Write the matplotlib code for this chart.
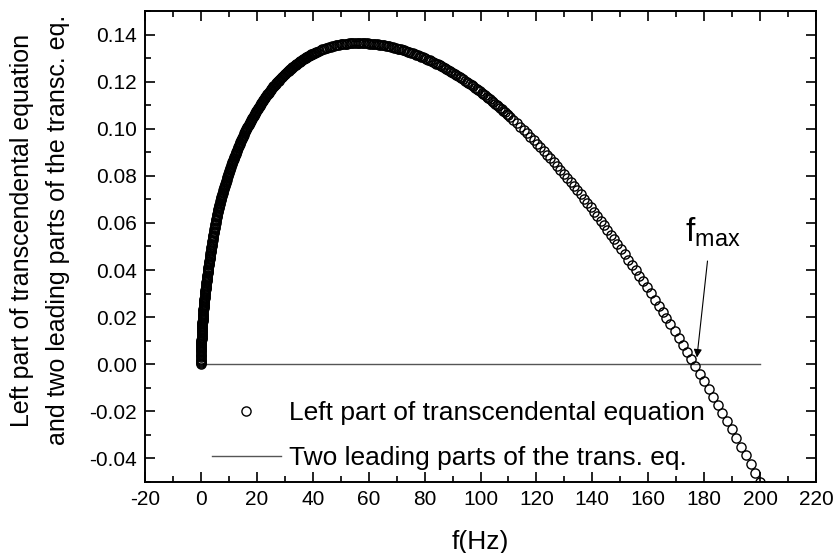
import numpy as np
import matplotlib
matplotlib.use('Agg')
import matplotlib.pyplot as plt
from matplotlib.ticker import MultipleLocator, FormatStrFormatter

# Left part of transcendental equation
f_left = [0, 0.02, 0.05, 0.09, 0.14, 0.2, 0.27, 0.35, 0.44, 0.54, 0.65, 0.77, 0.9, 1.04, 1.19,
          1.35, 1.52, 1.7, 1.89, 2.09, 2.3, 2.52, 2.75, 3.0, 3.26, 3.53, 3.81, 4.1, 4.4, 4.72,
          5.05, 5.4, 5.76, 6.13, 6.52, 6.92, 7.34, 7.77, 8.22, 8.68, 9.16, 9.65, 10.16, 10.7,
          11.25, 11.82, 12.4, 13.0, 13.65, 14.3, 15.0, 15.7, 16.45, 17.2, 18.0, 18.8, 19.65,
          20.5, 21.4, 22.3, 23.25, 24.2, 25.2, 26.2, 27.25, 28.3, 29.4, 30.5, 31.6, 32.7, 33.85,
          35.0, 36.2, 37.4, 38.6, 39.8, 41.0, 42.2, 43.4, 44.6, 45.8, 47.0, 48.2, 49.4, 50.6,
          51.8, 53.0, 54.2, 55.4, 56.6,
          57.8, 59.0, 60.2, 61.4, 62.6, 63.8, 65.0, 66.2, 67.4, 68.6, 69.8, 71.0, 72.2, 73.4,
          74.6, 75.8, 77.0, 78.2, 79.4, 80.6, 81.8, 83.0, 84.2, 85.4, 86.6, 87.8, 89.0, 90.2,
          91.4, 92.6, 93.8, 95.0, 96.2, 97.4, 98.6, 99.8, 101.0, 102.2, 103.4, 104.6, 105.8,
          107.0, 108.2, 109.4, 110.6, 111.8, 113.0, 114.2, 115.4, 116.6, 117.8, 119.0, 120.2,
          121.4, 122.6, 123.8, 125.0, 126.2, 127.4, 128.6, 129.8, 131.0, 132.2, 133.4, 134.6,
          135.8, 137.0, 138.2, 139.4, 140.6, 141.8, 143.0, 144.2, 145.4, 146.6, 147.8, 149.0,
          150.3, 151.6, 152.9, 154.2, 155.5, 156.8, 158.1, 159.5, 160.9, 162.3, 163.7, 165.1,
          166.5, 167.9, 169.4, 170.9, 172.4, 173.9, 175.4, 176.9, 178.5, 180.1, 181.7, 183.3,
          184.9, 186.5, 188.1, 189.8, 191.5, 193.2, 194.9, 196.6, 198.3, 200.0]
y_left = [0, 0.00342, 0.00542, 0.00727, 0.00908, 0.01086, 0.01263, 0.0144, 0.01617, 0.01794,
          0.01972, 0.02151, 0.0233, 0.0251, 0.02692, 0.02875, 0.03059, 0.03244, 0.03431, 0.03619,
          0.0381, 0.04002, 0.04196, 0.04399, 0.04605, 0.04812, 0.05021, 0.05232, 0.05445, 0.05668,
          0.05892, 0.06126, 0.06354, 0.0654, 0.06728, 0.06914, 0.07102, 0.07287, 0.07474, 0.07658,
          0.07843, 0.08025, 0.08208, 0.08394, 0.08577, 0.08759, 0.08938, 0.09116, 0.09302, 0.09481,
          0.09665, 0.09842, 0.10025, 0.102, 0.10379, 0.1055, 0.10724, 0.1089, 0.11058, 0.11218,
          0.11379, 0.11533, 0.11686, 0.11832, 0.11977, 0.12113, 0.12249, 0.12376, 0.12495, 0.12607,
          0.12717, 0.1282, 0.12919, 0.13011, 0.13095, 0.13173, 0.13244, 0.13309, 0.13366, 0.13418,
          0.13464, 0.13504, 0.13539, 0.13568, 0.13591, 0.13609, 0.13622, 0.13631, 0.13634, 0.1364,
          0.13636, 0.1363, 0.1362, 0.13607, 0.1359, 0.13571, 0.13548, 0.13523, 0.13494, 0.13461,
          0.13426, 0.13388, 0.13346, 0.13302, 0.13254, 0.13204, 0.1315, 0.13094, 0.13034, 0.12972,
          0.12906, 0.12838, 0.12767, 0.12692, 0.12615, 0.12536, 0.12453, 0.12368, 0.12279, 0.12188,
          0.12094, 0.11998, 0.11899, 0.11797, 0.11692, 0.11585, 0.11474, 0.11362, 0.11247, 0.11129,
          0.11008, 0.10885, 0.1076, 0.10632, 0.10501, 0.10368, 0.10233, 0.10095, 0.09954, 0.09811,
          0.09666, 0.09519, 0.09369, 0.09216, 0.09062, 0.08905, 0.08745, 0.08584, 0.0842, 0.08254,
          0.08086, 0.07915, 0.07743, 0.07568, 0.07391, 0.07212, 0.0703, 0.06847, 0.06662, 0.06474,
          0.06285, 0.06093, 0.059, 0.05704, 0.05507, 0.05307, 0.05106, 0.04885, 0.04663, 0.04438,
          0.04211, 0.03982, 0.0375, 0.03517, 0.03263, 0.03007, 0.02749, 0.02488, 0.02225, 0.01959,
          0.01692, 0.01402, 0.01111, 0.00817, 0.0052, 0.00221, -0.00081, -0.00405, -0.00732,
          -0.01062, -0.01393, -0.01728, -0.02065, -0.02404, -0.02767, -0.03133, -0.03502, -0.03873,
          -0.04246, -0.04622, -0.05]

# more points of the same series where the circles are packed tightly (f < 110 Hz)
f_left_dense = [0.01, 0.035, 0.07, 0.115, 0.17, 0.235, 0.31, 0.395, 0.49, 0.595, 0.71, 0.835,
                0.97, 1.115, 1.27, 1.435, 1.61, 1.795, 1.99, 2.195, 2.41, 2.635, 2.875, 3.13,
                3.395, 3.67, 3.955, 4.25, 4.56, 4.885, 5.225, 5.58, 5.945, 6.325, 6.72, 7.13,
                7.555, 7.995, 8.45, 8.92, 9.405, 9.905, 10.43, 10.975, 11.535, 12.11, 12.7,
                13.325, 13.975, 14.65, 15.35, 16.075, 16.825, 17.6, 18.4, 19.225, 20.075, 20.95,
                21.85, 22.775, 23.725, 24.7, 25.7, 26.725, 27.775, 28.85, 29.95, 31.05, 32.15,
                33.275, 34.425, 35.6, 36.8, 38.0, 39.2, 40.4, 41.6, 42.8, 44.0, 45.2, 46.4, 47.6,
                48.8, 50.0, 51.2, 52.4, 53.6, 54.8, 56.0,
                57.2, 58.4, 59.6, 60.8, 62.0, 63.2, 64.4, 65.6, 66.8, 68.0, 69.2, 70.4, 71.6,
                72.8, 74.0, 75.2, 76.4, 77.6, 78.8, 80.0, 81.2, 82.4, 83.6, 84.8, 86.0, 87.2,
                88.4, 89.6, 90.8, 92.0, 93.2, 94.4, 95.6, 96.8, 98.0, 99.2, 100.4, 101.6, 102.8,
                104.0, 105.2, 106.4, 107.6, 108.8, 110.0]
y_left_dense = [0.00242, 0.00453, 0.00641, 0.00822, 0.01001, 0.01178, 0.01354, 0.01531, 0.01708,
                0.01885, 0.02063, 0.02242, 0.02422, 0.02602, 0.02784, 0.02968, 0.03152, 0.03339,
                0.03526, 0.03716, 0.03907, 0.041, 0.04298, 0.04503, 0.04709, 0.04917, 0.05127,
                0.0534, 0.05557, 0.05781, 0.06009, 0.06244, 0.06447, 0.06635, 0.06822, 0.07009,
                0.07196, 0.07382, 0.07567, 0.07751, 0.07935, 0.08118, 0.08302, 0.08486, 0.08669,
                0.08849, 0.09028, 0.0921, 0.09392, 0.09574, 0.09755, 0.09935, 0.10113, 0.1029,
                0.10465, 0.10638, 0.10808, 0.10975, 0.11139, 0.113, 0.11457, 0.11611, 0.1176,
                0.11905, 0.12046, 0.12182, 0.12313, 0.12437, 0.12552, 0.12663, 0.1277, 0.1287,
                0.12966, 0.13054, 0.13135, 0.13209, 0.13277, 0.13338, 0.13393, 0.13442, 0.13485,
                0.13522, 0.13554, 0.1358, 0.13601, 0.13617, 0.13628, 0.13633, 0.13637,
                0.13638, 0.13633, 0.13625, 0.13614, 0.13599, 0.13581, 0.1356, 0.13536, 0.13508,
                0.13478, 0.13444, 0.13407, 0.13367, 0.13324, 0.13278, 0.13229, 0.13177, 0.13122,
                0.13064, 0.13003, 0.12939, 0.12872, 0.12803, 0.1273, 0.12654, 0.12576, 0.12495,
                0.1241, 0.12324, 0.12234, 0.12142, 0.12046, 0.11948, 0.11848, 0.11745, 0.11638,
                0.1153, 0.11419, 0.11305, 0.11188, 0.11069, 0.10947, 0.10823, 0.10696, 0.10567]

# the rising branch near f = 0 is a solid band of circles: still more points there
f_left_fine = [0.0005, 0.0015, 0.003,
               0.005, 0.015, 0.0275, 0.0425, 0.06, 0.08, 0.1025, 0.1275, 0.155, 0.185, 0.2175,
               0.2525, 0.29, 0.33, 0.3725, 0.4175, 0.465, 0.515, 0.5675, 0.6225, 0.68, 0.74,
               0.8025, 0.8675, 0.935, 1.005, 1.0775, 1.1525, 1.23, 1.31, 1.3925, 1.4775, 1.565,
               1.655, 1.7475, 1.8425, 1.94, 2.04, 2.1425, 2.2475, 2.355, 2.465, 2.5775, 2.6925,
               2.8125, 2.9375, 3.065, 3.195, 3.3275, 3.4625, 3.6, 3.74, 3.8825, 4.0275, 4.175,
               4.325, 4.48, 4.64, 4.8025, 4.9675, 5.1375, 5.3125, 5.49, 5.67, 5.8525, 6.0375,
               6.2275, 6.4225, 6.62, 6.82, 7.025, 7.235, 7.4475, 7.6625, 7.8825, 8.1075, 8.335,
               8.565, 8.8, 9.04, 9.2825, 9.5275, 9.7775, 10.0325, 10.295, 10.565, 10.8375,
               11.1125, 11.3925, 11.6775, 11.965, 12.255, 12.55, 12.85, 13.1625, 13.4875,
               13.8125, 14.1375, 14.475, 14.825, 15.175, 15.525, 15.8875, 16.2625, 16.6375,
               17.0125, 17.4, 17.8, 18.2, 18.6, 19.0125, 19.4375, 19.8625, 20.2875, 20.725,
               21.175, 21.625, 22.075, 22.5375, 23.0125, 23.4875, 23.9625, 24.45, 24.95, 25.45,
               25.95, 26.4625, 26.9875, 27.5125, 28.0375, 28.575, 29.125, 29.675, 30.225,
               30.775, 31.325, 31.875, 32.425, 32.9875, 33.5625, 34.1375, 34.7125, 35.3, 35.9,
               36.5, 37.1, 37.7, 38.3, 38.9, 39.5, 40.1, 40.7]
y_left_fine = [0.00054, 0.00094, 0.00133,
               0.00171, 0.00296, 0.00401, 0.00499, 0.00593, 0.00684, 0.00776, 0.00866, 0.00955,
               0.01044, 0.01133, 0.01221, 0.0131, 0.01398, 0.01486, 0.01575, 0.01663, 0.01752,
               0.0184, 0.01929, 0.02018, 0.02107, 0.02197, 0.02286, 0.02376, 0.02466, 0.02556,
               0.02647, 0.02738, 0.0283, 0.02922, 0.03014, 0.03106, 0.03198, 0.03292, 0.03385,
               0.03479, 0.03573, 0.03668, 0.03763, 0.03859, 0.03955, 0.04051, 0.04148, 0.04247,
               0.04349, 0.04451, 0.04554, 0.04657, 0.04761, 0.04865, 0.04969, 0.05074, 0.0518,
               0.05286, 0.05393, 0.05501, 0.05613, 0.05725, 0.05837, 0.05951, 0.06068, 0.06185,
               0.06299, 0.06401, 0.06494, 0.06588, 0.06682, 0.06775, 0.06868, 0.06962, 0.07056,
               0.07149, 0.07242, 0.07335, 0.07428, 0.07521, 0.07613, 0.07705, 0.07797, 0.07889,
               0.0798, 0.08072, 0.08163, 0.08255, 0.08348, 0.0844, 0.08532, 0.08623, 0.08714,
               0.08804, 0.08894, 0.08983, 0.09072, 0.09163, 0.09256, 0.09347, 0.09437, 0.09528,
               0.0962, 0.0971, 0.09799, 0.09889, 0.0998, 0.10069, 0.10157, 0.10245, 0.10335,
               0.10422, 0.10508, 0.10594, 0.10681, 0.10766, 0.10849, 0.10933, 0.11017, 0.11099,
               0.11179, 0.11259, 0.1134, 0.11418, 0.11495, 0.11572, 0.11649, 0.11723, 0.11796,
               0.11869, 0.11941, 0.12012, 0.1208, 0.12148, 0.12216, 0.12281, 0.12345, 0.12407,
               0.12466, 0.12524, 0.1258, 0.12635, 0.1269, 0.12744, 0.12795, 0.12845, 0.12895,
               0.12943, 0.12989, 0.13033, 0.13075, 0.13115, 0.13154, 0.13191, 0.13227]

# Two leading parts of the transcendental equation
f_lead = [0, 200]
y_lead = [0, 0]

label_left = 'Left part of transcendental equation'
label_lead = 'Two leading parts of the trans. eq.'

plt.rcParams['font.family'] = ['Liberation Sans', 'DejaVu Sans']
plt.rcParams['axes.unicode_minus'] = False
plt.rcParams['mathtext.fontset'] = 'custom'
plt.rcParams['mathtext.rm'] = 'Liberation Sans'

fig = plt.figure(figsize=(8.34, 5.53), dpi=100)
ax = fig.add_axes([0.1739, 0.1284, 0.8045, 0.8517])

f_all = f_left + f_left_dense + f_left_fine
y_all = y_left + y_left_dense + y_left_fine

line_lead, = ax.plot(f_lead, y_lead, '-', color='#555555', lw=1.0, zorder=2)
pts, = ax.plot(f_all, y_all, 'o', mfc='none', mec='black', ms=6.6, mew=1.0, zorder=3)

ax.set_xlim(-20, 220)
ax.set_ylim(-0.05, 0.15)
ax.xaxis.set_major_locator(MultipleLocator(20))
ax.xaxis.set_minor_locator(MultipleLocator(10))
ax.yaxis.set_minor_locator(MultipleLocator(0.01))
ax.yaxis.set_major_formatter(FormatStrFormatter('%.2f'))
ax.set_yticks(np.arange(-0.04, 0.141, 0.02))

ax.tick_params(which='both', direction='in', top=True, right=True, width=1.2, labelsize=15)
ax.tick_params(which='major', length=7, pad=6)
ax.tick_params(which='minor', length=4)
for s in ax.spines.values():
    s.set_linewidth(1.4)

ax.set_xlabel('f(Hz)', fontsize=19, labelpad=15)
ax.set_ylabel('Left part of transcendental equation\nand two leading parts of the transc. eq.',
              fontsize=18, labelpad=14, linespacing=1.6)
ax.yaxis.label.set_y(0.535)

# f_max annotation
ax.text(173.1, 0.0519, r'$\mathregular{f_{max}}$', fontsize=24, ha='left', va='baseline')
ax.annotate('', xy=(177.3, 0.0017), xytext=(181.3, 0.045),
            arrowprops=dict(arrowstyle='-|>', color='black', lw=0.8, mutation_scale=12))

ax.legend([pts, line_lead], [label_left, label_lead], loc='lower left',
          bbox_to_anchor=(0.10, 0.025), frameon=False, fontsize=19, numpoints=1,
          handlelength=2.6, handletextpad=0.3, labelspacing=0.8, borderpad=0,
          borderaxespad=0)

plt.savefig('out.png', dpi=100)
